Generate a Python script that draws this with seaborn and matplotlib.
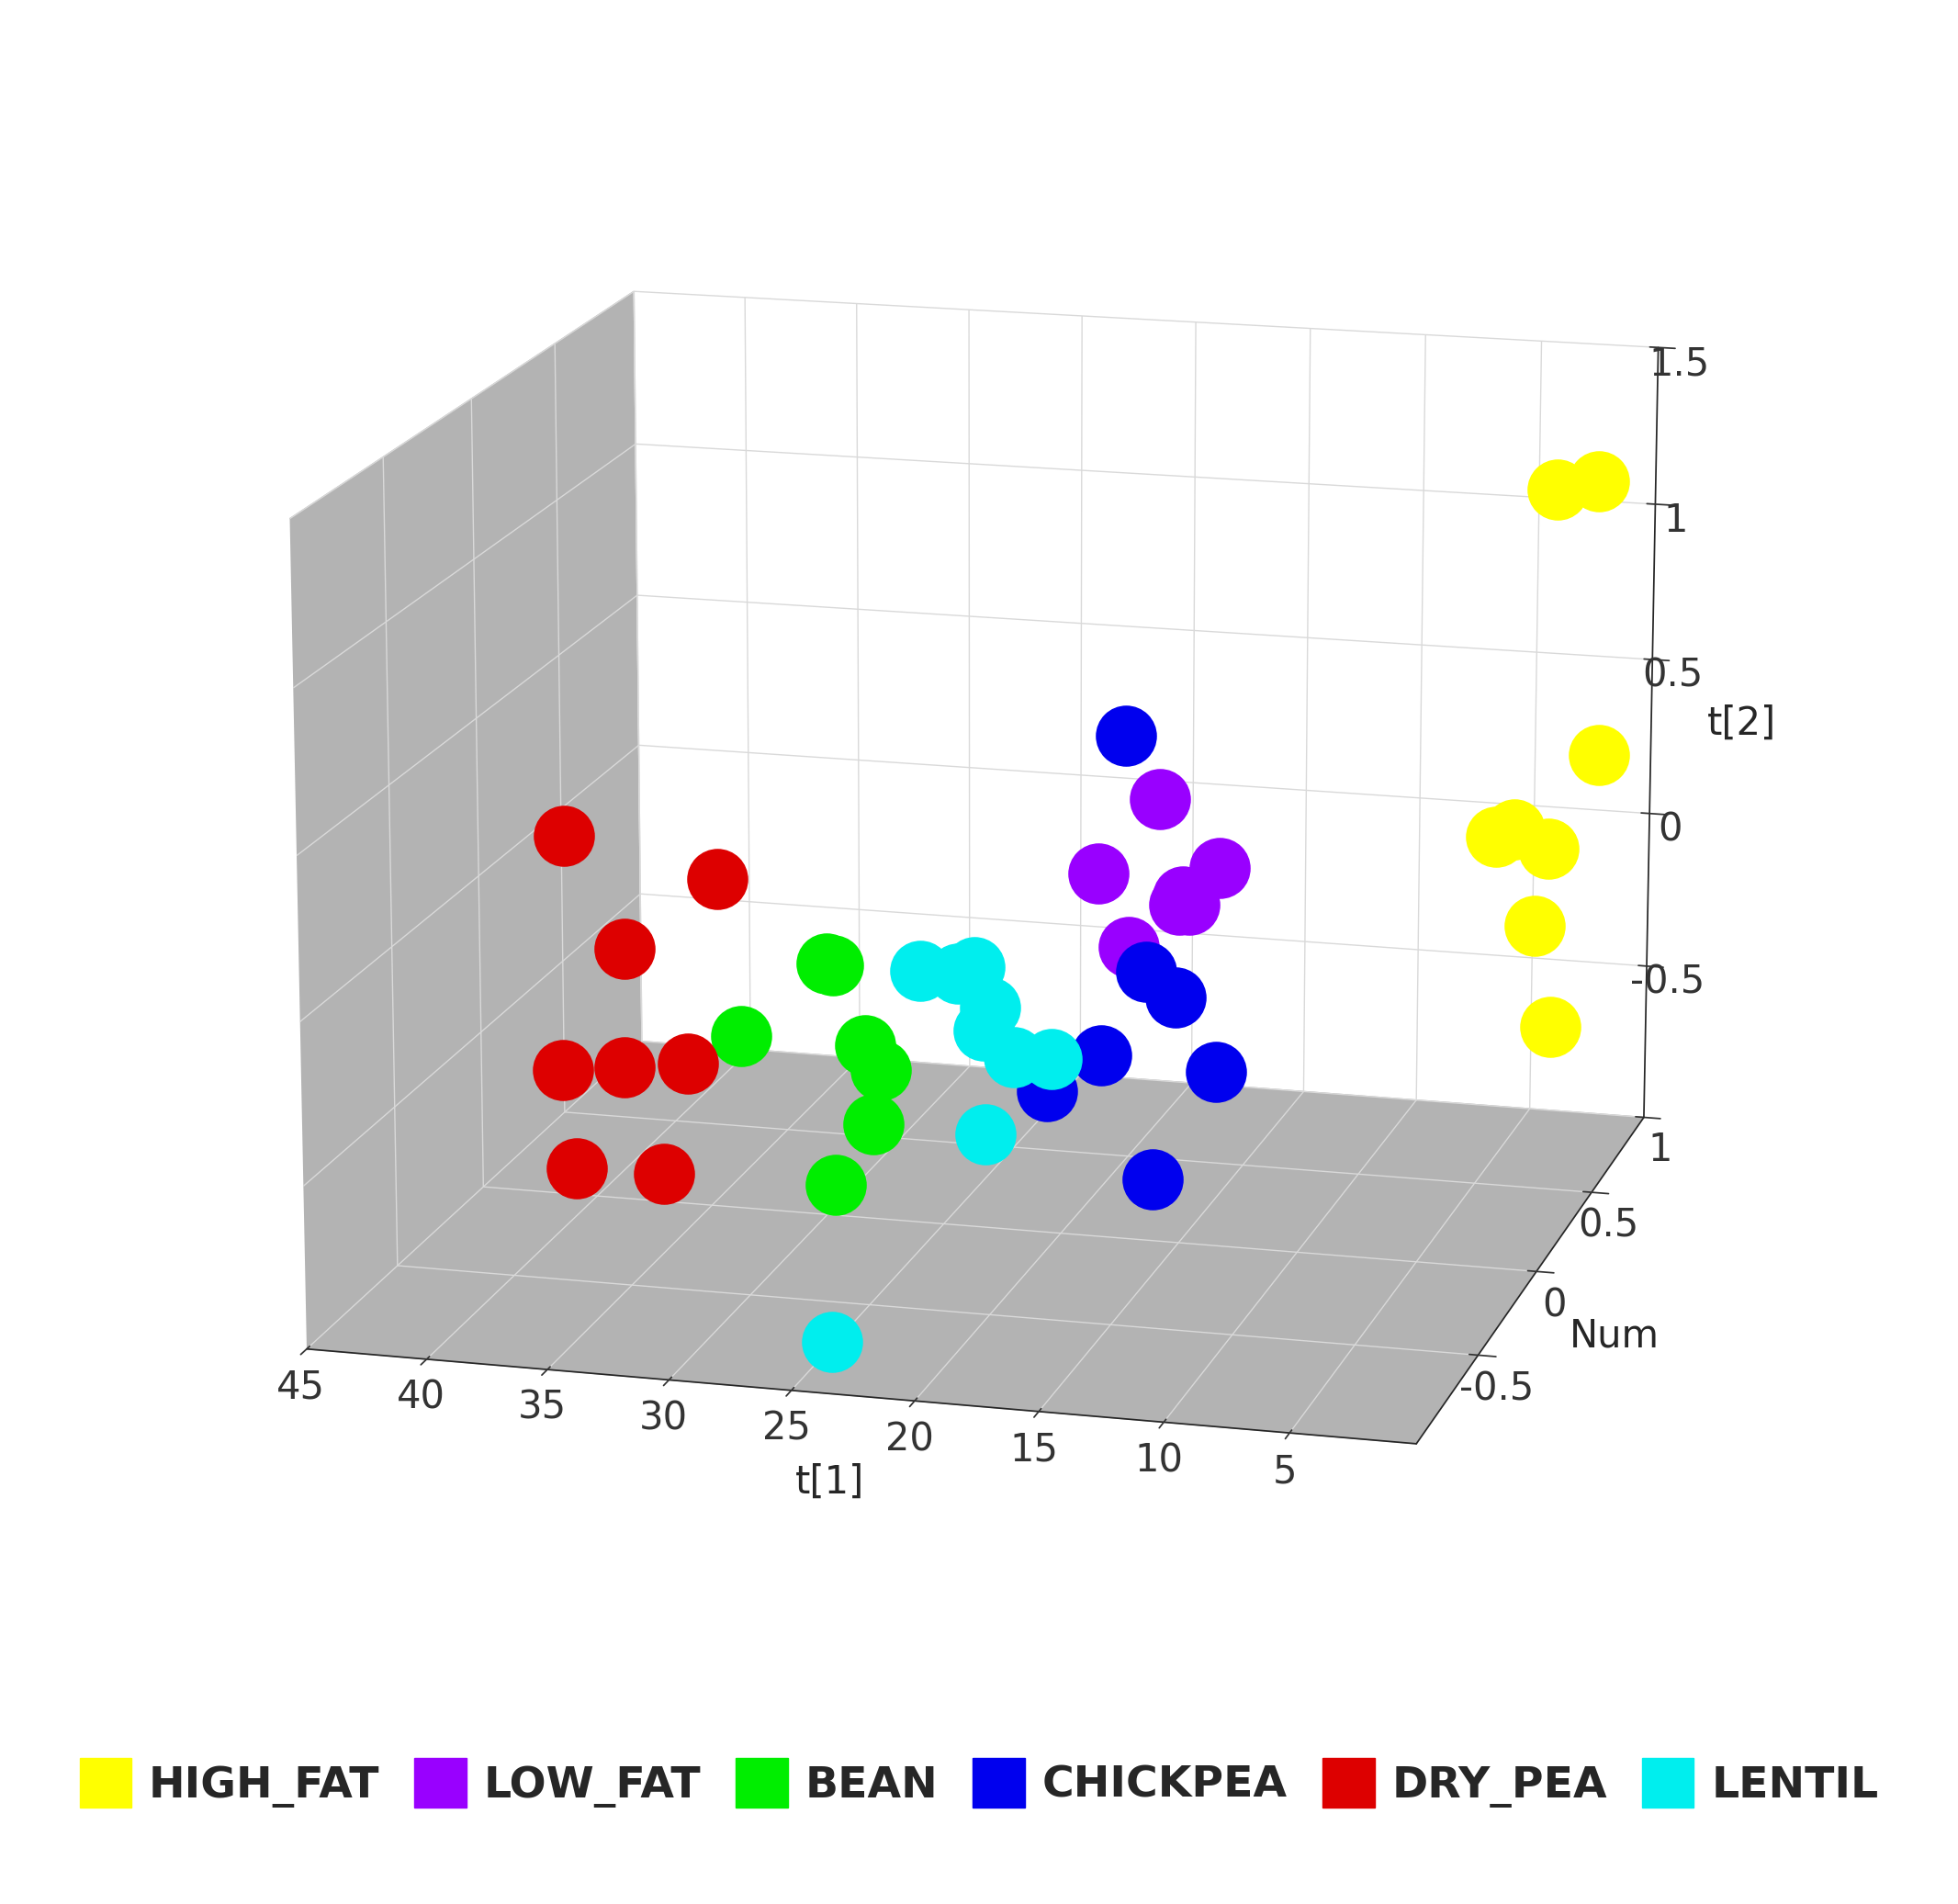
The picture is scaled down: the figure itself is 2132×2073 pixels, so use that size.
import matplotlib
matplotlib.use("Agg")
import matplotlib.pyplot as plt
import matplotlib.ticker as mticker
import seaborn as sns
import pandas as pd

sns.set_theme(style="white")
plt.rcParams['font.family'] = ['DejaVu Sans']

# groups and estimated scores (t[1] = sample axis 0-45, Num, t[2])
groups = ["HIGH_FAT", "LOW_FAT", "BEAN", "CHICKPEA", "DRY_PEA", "LENTIL"]
colors = ["#ffff00", "#9900ff", "#00ee00", "#0000ee", "#dd0000", "#00eeee"]

high_t1 = [2, 4, 3, 5, 4, 3, 2, 1]
high_num = [0.9, 0.6, 0.7, 0.65, 0.8, 0.75, 0.95, 0.3]
high_t2 = [1.1, 0.1, 0.0, 0.05, -0.3, -0.6, 0.2, 1.3]

low_t1 = [17, 19, 16, 15, 16, 17, 18]
low_num = [0.2, 0.1, 0.25, 0.3, 0.2, 0.35, 0.15]
low_t2 = [0.3, 0.1, -0.05, 0.05, 0.0, -0.1, -0.15]

bean_t1 = [30, 33, 29, 28, 28, 29, 31]
bean_num = [0.0, -0.1, 0.1, 0.05, 0.0, -0.1, 0.2]
bean_t2 = [-0.2, -0.4, -0.5, -0.55, -0.7, -0.85, -0.3]

chick_t1 = [19, 17, 16, 18, 20, 14, 15]
chick_num = [0.3, 0.1, 0.15, -0.05, -0.1, 0.1, -0.2]
chick_t2 = [0.45, -0.2, -0.3, -0.4, -0.5, -0.5, -0.7]

dry_t1 = [42, 38, 36, 40, 37, 36, 38, 35]
dry_num = [0.1, -0.1, 0.2, -0.2, -0.25, 0.0, -0.4, -0.3]
dry_t2 = [0.1, -0.15, -0.05, -0.5, -0.45, -0.55, -0.7, -0.75]

lentil_t1 = [26, 25, 24, 23, 22, 21, 22, 23, 24]
lentil_num = [0.0, 0.1, 0.05, -0.05, 0.0, 0.1, -0.2, 0.0, -0.9]
lentil_t2 = [-0.2, -0.25, -0.2, -0.35, -0.45, -0.5, -0.6, -0.3, -0.9]

frames = []
for g, a, b, c in zip(groups,
                      [high_t1, low_t1, bean_t1, chick_t1, dry_t1, lentil_t1],
                      [high_num, low_num, bean_num, chick_num, dry_num, lentil_num],
                      [high_t2, low_t2, bean_t2, chick_t2, dry_t2, lentil_t2]):
    frames.append(pd.DataFrame({"group": g, "t1": a, "num": b, "t2": c}))
df = pd.concat(frames, ignore_index=True)

fig = plt.figure(figsize=(21.32, 20.73), dpi=100)
ax = fig.add_axes([0.0, 0.1, 1.0, 0.9], projection="3d")

for g, col in zip(groups, colors):
    sub = df[df.group == g]
    ax.scatter(sub.t1, sub.num, sub.t2, s=2200, c=col, edgecolors=col,
               depthshade=False, label=g, alpha=1)

ax.set_xlim(45, 0)
ax.set_ylim(-1, 1)
ax.set_zlim(-1, 1.5)
ax.set_xticks([5, 10, 15, 20, 25, 30, 35, 40, 45])
ax.set_yticks([-0.5, 0, 0.5, 1])
ax.set_zticks([-0.5, 0, 0.5, 1, 1.5])
fmt = mticker.FormatStrFormatter("%g")
ax.yaxis.set_major_formatter(fmt)
ax.zaxis.set_major_formatter(fmt)
ax.tick_params(labelsize=30, colors="#333333")
ax.set_xlabel("t[1]", fontsize=30, labelpad=30)
ax.set_ylabel("Num", fontsize=30, labelpad=30)
ax.set_zlabel("t[2]", fontsize=30, labelpad=30)
for axis in (ax.xaxis, ax.yaxis, ax.zaxis):
    axis.set_pane_color((0.7, 0.7, 0.7, 1.0))
    axis._axinfo["grid"]["color"] = (0.85, 0.85, 0.85, 1)
ax.yaxis.set_pane_color((1, 1, 1, 1))
ax.view_init(elev=15, azim=-75)

handles = [plt.Rectangle((0, 0), 1, 1, color=c) for c in colors]
fig.legend(handles, groups, loc="lower center", ncol=6, frameon=False,
           prop={"size": 34, "weight": "bold"}, handlelength=1.2,
           handleheight=1.4, handletextpad=0.4, columnspacing=0.8,
           bbox_to_anchor=(0.5, 0.03))

fig.savefig("out.png", dpi=100)
